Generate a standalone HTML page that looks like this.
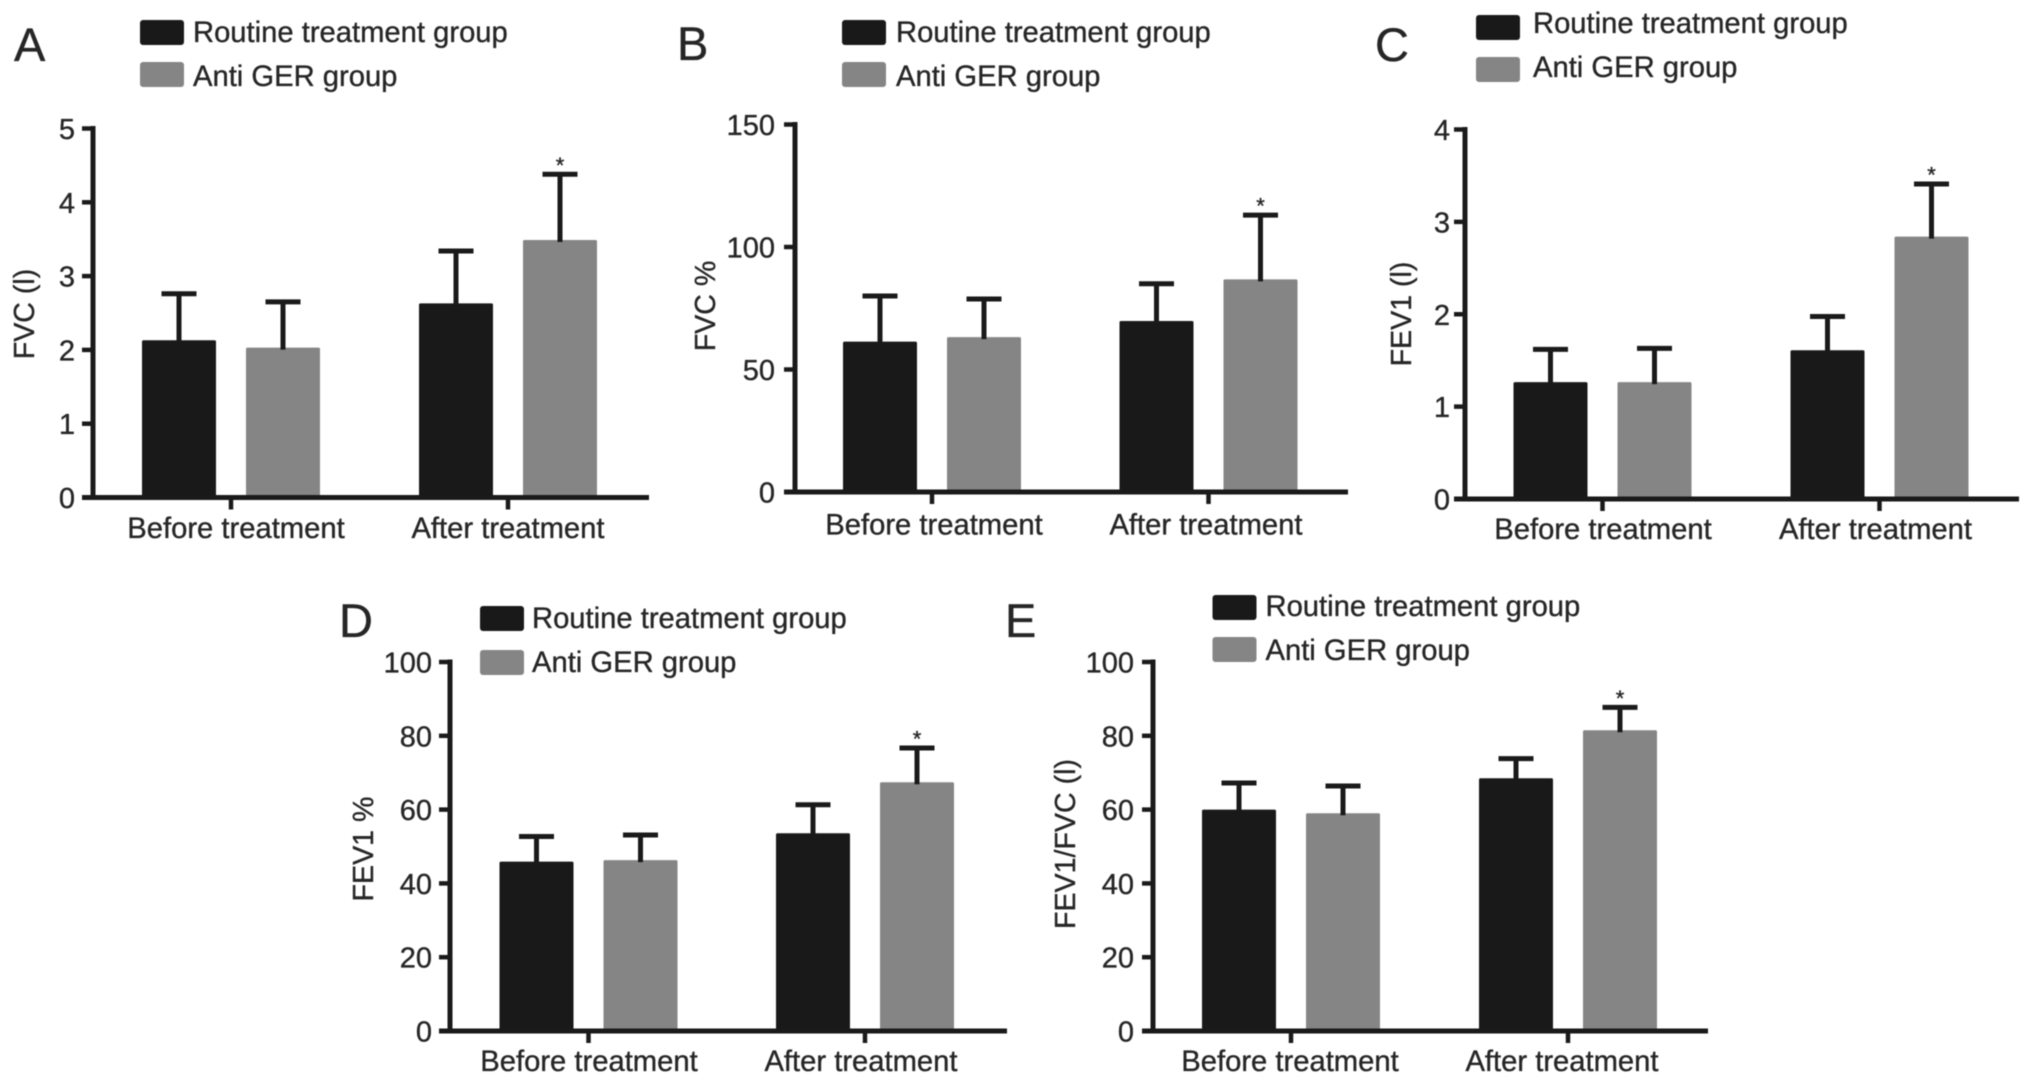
<!DOCTYPE html>
<html lang="en">
<head>
<meta charset="utf-8">
<title>Pulmonary function before and after treatment</title>
<style>
  html, body { margin: 0; padding: 0; background: #fff; }
  #figure { display: block; width: 2032px; height: 1085px; filter: blur(0.6px); }
  text { font-family: "Liberation Sans", Arial, sans-serif; fill: #262626; stroke: #262626; stroke-width: 0.35px; }
</style>
</head>
<body>
<svg id="figure" xmlns="http://www.w3.org/2000/svg" width="2032" height="1085" viewBox="0 0 2032 1085">
  <rect x="0" y="0" width="2032" height="1085" fill="#ffffff"/>
  <g id="panel-a"></g>
  <g id="panel-b"></g>
  <g id="panel-c"></g>
  <g id="panel-d"></g>
  <g id="panel-e"></g>
</svg>
<script>
// Shared labels
const categories = ['Before treatment', 'After treatment'];
const seriesNames = ['Routine treatment group', 'Anti GER group'];

// Panel A: FVC (l)
const fvcLitresTicks = [0, 1, 2, 3, 4, 5];
const fvcLitresRoutine = [2.13, 2.63];
const fvcLitresAnti = [2.03, 3.49];
const fvcLitresRoutineSd = [0.63, 0.71];
const fvcLitresAntiSd = [0.62, 0.89];

// Panel B: FVC %
const fvcPercentTicks = [0, 50, 100, 150];
const fvcPercentRoutine = [61.4, 69.8];
const fvcPercentAnti = [63.2, 86.8];
const fvcPercentRoutineSd = [18.6, 15.2];
const fvcPercentAntiSd = [15.6, 26.2];

// Panel C: FEV1 (l)
const fev1LitresTicks = [0, 1, 2, 3, 4];
const fev1LitresRoutine = [1.265, 1.61];
const fev1LitresAnti = [1.265, 2.84];
const fev1LitresRoutineSd = [0.355, 0.365];
const fev1LitresAntiSd = [0.365, 0.57];

// Panel D: FEV1 %
const fev1PercentTicks = [0, 20, 40, 60, 80, 100];
const fev1PercentRoutine = [45.9, 53.6];
const fev1PercentAnti = [46.3, 67.4];
const fev1PercentRoutineSd = [6.8, 7.7];
const fev1PercentAntiSd = [6.8, 9.3];

// Panel E: FEV1/FVC (l)
const ratioTicks = [0, 20, 40, 60, 80, 100];
const ratioRoutine = [60, 68.5];
const ratioAnti = [59, 81.5];
const ratioRoutineSd = [7.2, 5.3];
const ratioAntiSd = [7.4, 6.2];

const BLACK = '#191919';
const GRAY = '#858585';
const AXIS = '#1a1a1a';
const NS = 'http://www.w3.org/2000/svg';

function make(parent, tag, attrs, content) {
  const node = document.createElementNS(NS, tag);
  for (const key in attrs) node.setAttribute(key, attrs[key]);
  if (content !== undefined) node.textContent = content;
  parent.appendChild(node);
  return node;
}

function drawPanel(p) {
  const root = document.getElementById(p.id);
  const ticks = p.ticks;
  const yMax = ticks[ticks.length - 1];
  const yScale = function (v) { return p.y0 - (v / yMax) * (p.y0 - p.yTop); };
  const xGroup = function (i) { return p.group0 + i * p.groupStep; };

  // panel letter
  const letter = make(root, 'text', { x: p.letterX, y: p.letterY, 'font-size': 47, fill: '#1a1a1a' }, p.letter);
  
  

  // legend
  const legend = make(root, 'g', {});
  
  
  const swatchColors = [BLACK, GRAY];
  seriesNames.forEach(function (name, i) {
    const swatch = make(legend, 'rect', { x: p.legendX, y: p.legendY[i], width: 44, height: 25, rx: 3, fill: swatchColors[i] });
    
    
    const label = make(legend, 'text', { x: p.legendTextX, y: p.legendBase[i], 'font-size': 29.2 }, name);
    
    
  });

  // series: bars and error bars
  const series = [
    { values: p.routine, sd: p.routineSd, color: BLACK, shift: -52 },
    { values: p.anti, sd: p.antiSd, color: GRAY, shift: 52 }
  ];
  series.forEach(function (s, si) {
    s.values.forEach(function (v, i) {
      const cx = xGroup(i) + s.shift;
      const top = yScale(v);
      const errTop = yScale(v + s.sd[i]);

      const bar = make(root, 'rect', { x: cx - 37, y: top, width: 74, height: p.y0 - top, rx: 1.5, fill: s.color });
      
      

      const stem = make(root, 'line', { x1: cx, x2: cx, y1: top + 2, y2: errTop, stroke: AXIS, 'stroke-width': 5 });
      
      

      const cap = make(root, 'line', { x1: cx - 17.5, x2: cx + 17.5, y1: errTop, y2: errTop, stroke: AXIS, 'stroke-width': 5 });
      
      

      if (si === 1 && i === 1) {
        const star = make(root, 'text', { x: cx, y: errTop - 1.5, 'font-size': 22, 'text-anchor': 'middle' }, '*');
        
        
      }
    });
  });

  // y axis
  const yAxis = make(root, 'line', { x1: p.axisX, x2: p.axisX, y1: p.yTop - 2.5, y2: p.y0 + 2.5, stroke: AXIS, 'stroke-width': 5 });
  
  

  ticks.forEach(function (t) {
    const y = yScale(t);
    const mark = make(root, 'line', { x1: p.axisX - 11, x2: p.axisX, y1: y, y2: y, stroke: AXIS, 'stroke-width': 4.5 });
    
    
    const tickLabel = make(root, 'text', { x: p.tickRight, y: y + 10.5, 'font-size': 29, 'text-anchor': 'end' }, String(t));
    
    
  });

  const title = make(root, 'text', {
    transform: 'translate(' + p.titleX + ',' + p.titleY + ') rotate(-90)',
    'font-size': 28.6, 'text-anchor': 'middle'
  }, p.title);
  
  

  // x axis
  const xAxis = make(root, 'line', { x1: p.axisX - 11, x2: p.xEnd, y1: p.y0, y2: p.y0, stroke: AXIS, 'stroke-width': 5 });
  
  

  categories.forEach(function (c, i) {
    const mark = make(root, 'line', { x1: xGroup(i), x2: xGroup(i), y1: p.y0, y2: p.y0 + 12, stroke: AXIS, 'stroke-width': 4.5 });
    
    
    const catLabel = make(root, 'text', { x: xGroup(i) + p.labelShift[i], y: p.labelBase, 'font-size': 29.2, 'text-anchor': 'middle' }, c);
    
    
  });
}

drawPanel({
  id: 'panel-a', letter: 'A', title: 'FVC (l)',
  ticks: fvcLitresTicks, routine: fvcLitresRoutine, anti: fvcLitresAnti,
  routineSd: fvcLitresRoutineSd, antiSd: fvcLitresAntiSd,
  axisX: 93, y0: 497.5, yTop: 128.5, xEnd: 649, tickRight: 75,
  group0: 231, groupStep: 277, labelShift: [5, 0], labelBase: 538,
  titleX: 34, titleY: 314, letterX: 14, letterY: 61,
  legendX: 140, legendY: [20, 62], legendTextX: 193, legendBase: [42, 86]
});

drawPanel({
  id: 'panel-b', letter: 'B', title: 'FVC %',
  ticks: fvcPercentTicks, routine: fvcPercentRoutine, anti: fvcPercentAnti,
  routineSd: fvcPercentRoutineSd, antiSd: fvcPercentAntiSd,
  axisX: 795, y0: 492, yTop: 124.5, xEnd: 1348, tickRight: 775,
  group0: 932, groupStep: 276.5, labelShift: [2, -2.5], labelBase: 534.5,
  titleX: 715, titleY: 306, letterX: 677, letterY: 60,
  legendX: 842, legendY: [20, 62], legendTextX: 896, legendBase: [42, 86]
});

drawPanel({
  id: 'panel-c', letter: 'C', title: 'FEV1 (l)',
  ticks: fev1LitresTicks, routine: fev1LitresRoutine, anti: fev1LitresAnti,
  routineSd: fev1LitresRoutineSd, antiSd: fev1LitresAntiSd,
  axisX: 1465, y0: 499, yTop: 129.5, xEnd: 2019, tickRight: 1450,
  group0: 1602.5, groupStep: 277, labelShift: [0.5, -4], labelBase: 539,
  titleX: 1411, titleY: 314, letterX: 1375, letterY: 61,
  legendX: 1476, legendY: [15, 57], legendTextX: 1533, legendBase: [33, 77]
});

drawPanel({
  id: 'panel-d', letter: 'D', title: 'FEV1 %',
  ticks: fev1PercentTicks, routine: fev1PercentRoutine, anti: fev1PercentAnti,
  routineSd: fev1PercentRoutineSd, antiSd: fev1PercentAntiSd,
  axisX: 450, y0: 1031, yTop: 662, xEnd: 1007, tickRight: 432,
  group0: 588.5, groupStep: 276.5, labelShift: [0.5, -4], labelBase: 1071,
  titleX: 373, titleY: 849, letterX: 339, letterY: 637,
  legendX: 480, legendY: [606, 650], legendTextX: 532, legendBase: [628, 672]
});

drawPanel({
  id: 'panel-e', letter: 'E', title: 'FEV1/FVC (l)',
  ticks: ratioTicks, routine: ratioRoutine, anti: ratioAnti,
  routineSd: ratioRoutineSd, antiSd: ratioAntiSd,
  axisX: 1153, y0: 1031, yTop: 662, xEnd: 1708, tickRight: 1134,
  group0: 1291, groupStep: 277, labelShift: [-1, -6], labelBase: 1071,
  titleX: 1075, titleY: 844, letterX: 1005, letterY: 637,
  legendX: 1212.5, legendY: [595, 637], legendTextX: 1265.5, legendBase: [616, 660]
});
</script>
</body>
</html>
